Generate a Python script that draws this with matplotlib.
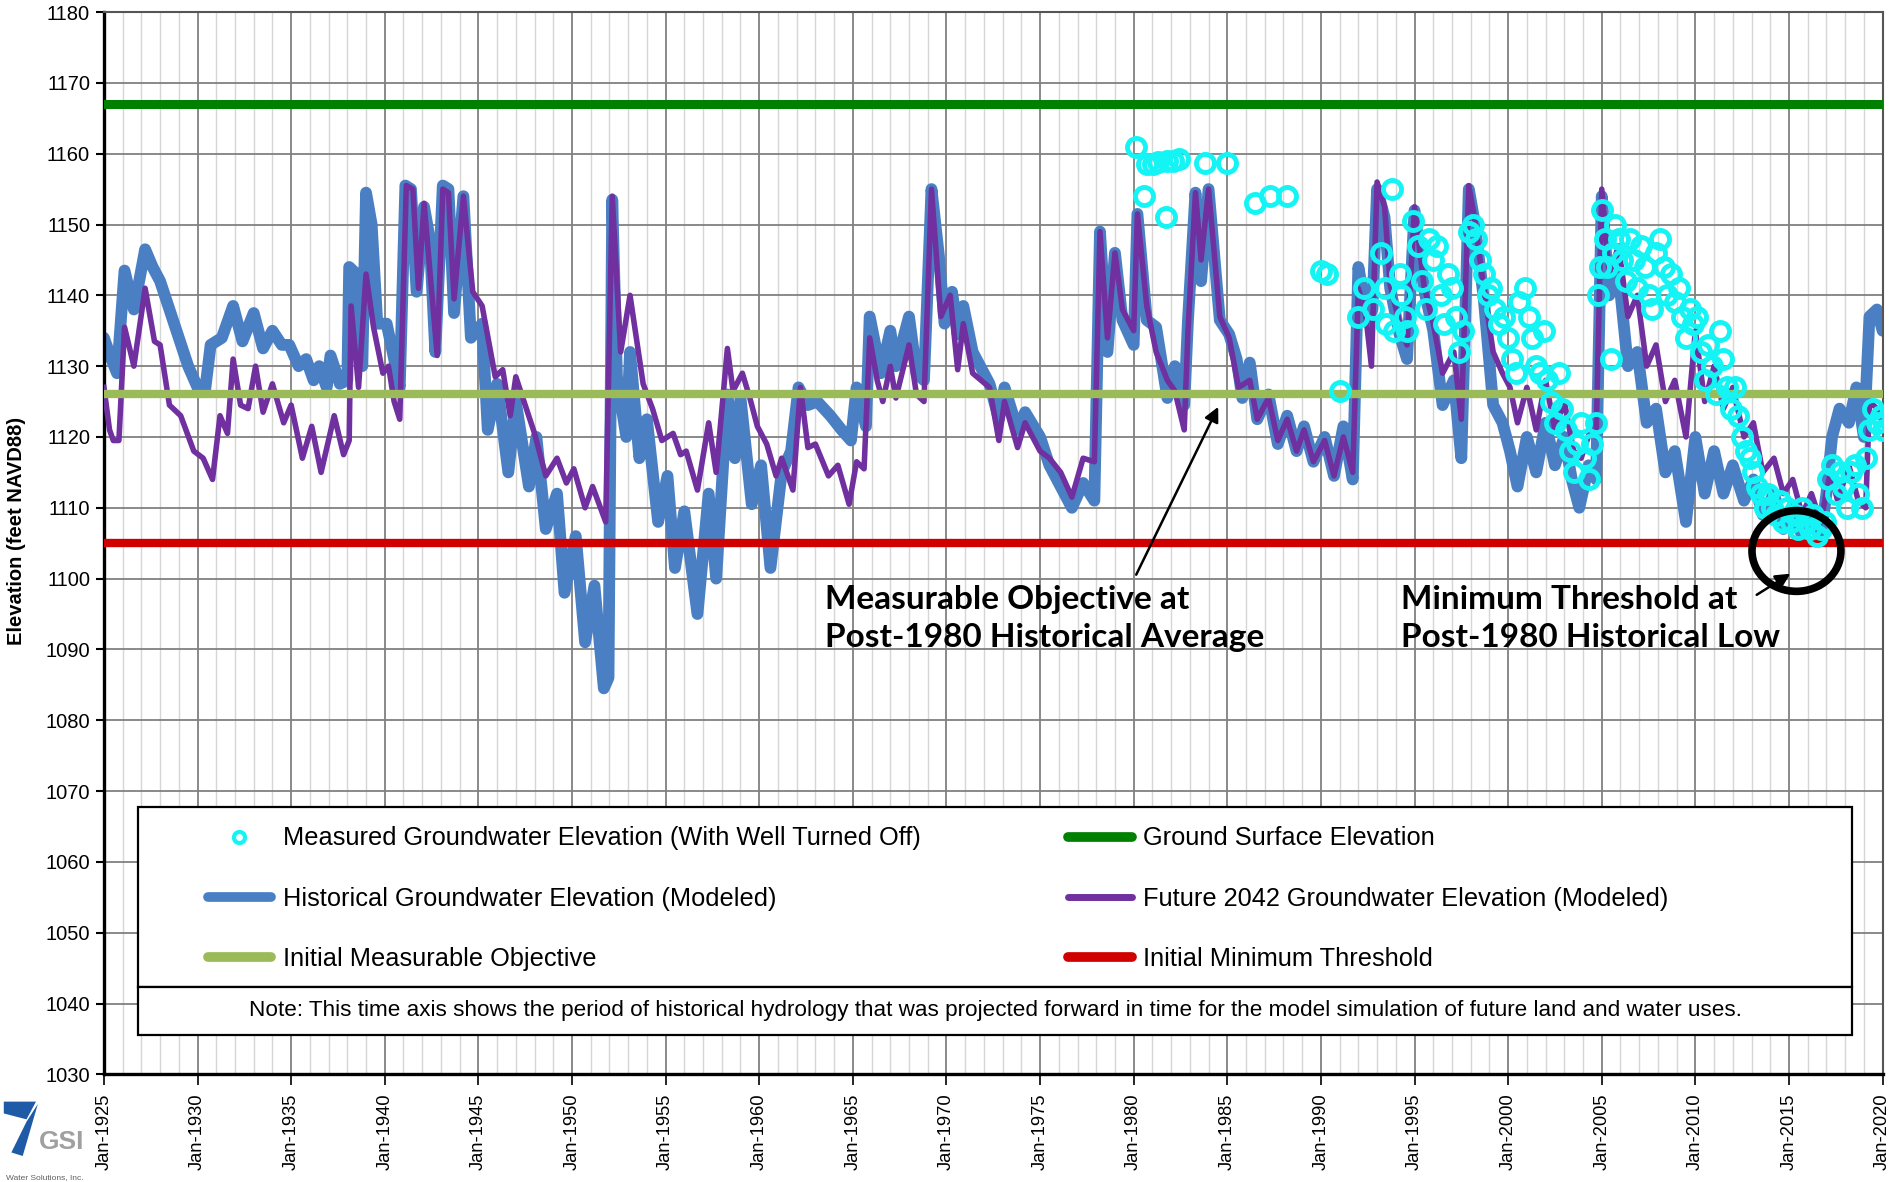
import matplotlib
matplotlib.use("Agg")
import matplotlib.pyplot as plt
from matplotlib.lines import Line2D
from matplotlib.patches import Ellipse, Rectangle, Polygon

# ---------------------------------------------------------------- data
hist_year = [
    1925.0, 1925.4, 1925.7, 1926.1, 1926.6, 1927.2, 1927.6, 1928.0, 1928.5, 1929.0,
    1929.5, 1930.0, 1930.4, 1930.7, 1931.3, 1931.9, 1932.4, 1933.0, 1933.5, 1934.0,
    1934.5, 1934.9, 1935.4, 1935.8, 1936.2, 1936.5, 1936.9, 1937.1, 1937.6, 1938.0,
    1938.1, 1938.5, 1938.8, 1939.0, 1939.3, 1939.6, 1940.1, 1940.5, 1940.8, 1941.1,
    1941.4, 1941.7, 1942.1, 1942.4, 1942.7, 1943.1, 1943.4, 1943.7, 1944.2, 1944.6,
    1945.2, 1945.5, 1946.0, 1946.6, 1947.0, 1947.7, 1948.1, 1948.6, 1949.2, 1949.6,
    1950.2, 1950.7, 1951.2, 1951.7, 1951.95, 1952.15, 1952.4, 1952.9, 1953.1, 1953.6,
    1954.0, 1954.6, 1955.1, 1955.5, 1956.0, 1956.7, 1957.3, 1957.7, 1958.3, 1958.7,
    1959.0, 1959.6, 1960.1, 1960.6, 1961.2, 1961.7, 1962.1, 1962.6, 1963.1, 1963.8,
    1964.4, 1964.9, 1965.2, 1965.7, 1965.9, 1966.5, 1967.0, 1967.3, 1968.0, 1968.4,
    1968.8, 1969.2, 1969.6, 1969.9, 1970.3, 1970.6, 1970.9, 1971.4, 1972.3, 1972.8,
    1973.1, 1973.8, 1974.2, 1975.0, 1975.5, 1976.1, 1976.7, 1977.3, 1977.9, 1978.2,
    1978.6, 1979.0, 1979.4, 1980.0, 1980.2, 1980.7, 1981.2, 1981.8, 1982.2, 1982.7,
    1982.9, 1983.3, 1983.6, 1984.0, 1984.6, 1985.1, 1985.5, 1985.8, 1986.2, 1986.6,
    1987.2, 1987.7, 1988.2, 1988.7, 1989.1, 1989.6, 1990.2, 1990.7, 1991.2, 1991.7,
    1992.0, 1992.5, 1992.75, 1993.0, 1993.4, 1993.7, 1994.2, 1994.6, 1995.0, 1995.5,
    1996.0, 1996.5, 1997.1, 1997.5, 1997.9, 1998.2, 1998.7, 1999.2, 1999.7, 2000.1,
    2000.5, 2001.0, 2001.5, 2002.0, 2002.5, 2003.0, 2003.4, 2003.8, 2004.3, 2004.7,
    2005.0, 2005.4, 2005.9, 2006.4, 2006.9, 2007.4, 2007.9, 2008.4, 2008.9, 2009.5,
    2010.0, 2010.5, 2011.0, 2011.5, 2012.0, 2012.6, 2013.1, 2013.6, 2014.2, 2014.7,
    2015.2, 2015.7, 2016.2, 2016.7, 2017.0, 2017.3, 2017.7, 2018.2, 2018.6, 2019.0,
    2019.3, 2019.7, 2020.0,
]
hist_elev = [
    1134, 1131, 1129, 1143.5, 1138, 1146.5, 1144, 1142, 1138, 1134,
    1130, 1127, 1126.5, 1133, 1134, 1138.5, 1133.5, 1137.5, 1132.5, 1135,
    1133, 1133, 1130, 1131, 1128, 1130, 1127, 1131.5, 1127.5, 1128,
    1144, 1143, 1130, 1154.5, 1150, 1136, 1136, 1131, 1127, 1155.5,
    1155, 1140.5, 1152.5, 1148, 1132, 1155.5, 1155, 1137.5, 1154, 1134,
    1136, 1121, 1127.5, 1115, 1125, 1113, 1120, 1107, 1112, 1098,
    1106, 1091, 1099, 1084.5, 1086, 1153.5, 1128.5, 1120, 1132, 1117,
    1122.5, 1108, 1114.5, 1101.5, 1109.5, 1095, 1112, 1100, 1126, 1117,
    1125.5, 1110.5, 1116, 1101.5, 1115, 1118, 1127, 1124.5, 1125, 1123,
    1121, 1119.5, 1127, 1121.5, 1137, 1129, 1135, 1130, 1137, 1129,
    1128, 1155, 1145.5, 1136, 1140.5, 1134.5, 1138.5, 1132, 1127.5, 1122.5,
    1127, 1121, 1123.5, 1120, 1116, 1113, 1110, 1113.5, 1111, 1149,
    1132, 1146, 1136.5, 1133, 1151.5, 1136.5, 1135.5, 1125.5, 1130, 1124.5,
    1136.5, 1154.5, 1142, 1155, 1136.5, 1134.5, 1131, 1125.5, 1130.5, 1122.5,
    1126, 1119, 1123, 1118, 1121.5, 1116.5, 1120, 1114.5, 1121.5, 1114,
    1144, 1136.5, 1138, 1155, 1151, 1141, 1134.5, 1131, 1152, 1141,
    1135, 1124.5, 1128, 1117, 1155, 1150.5, 1139.5, 1124.5, 1122, 1118,
    1113, 1120, 1115, 1122, 1116, 1120, 1114, 1110, 1116, 1114,
    1154, 1140, 1143, 1130, 1132, 1122, 1124, 1115, 1118, 1108,
    1120, 1112, 1118, 1112, 1116, 1111, 1114, 1109, 1112, 1107,
    1110, 1106, 1108, 1106, 1112, 1120, 1124, 1122, 1127, 1120,
    1137, 1138, 1135,
]

fut_year = [
    1925.0, 1925.3, 1925.5, 1925.8, 1926.1, 1926.6, 1927.2, 1927.7, 1928.0, 1928.5,
    1929.1, 1929.8, 1930.3, 1930.8, 1931.2, 1931.6, 1931.9, 1932.3, 1932.7, 1933.1,
    1933.5, 1934.0, 1934.6, 1935.0, 1935.6, 1936.1, 1936.6, 1937.3, 1937.8, 1938.1,
    1938.2, 1938.6, 1939.0, 1939.4, 1939.9, 1940.2, 1940.5, 1940.8, 1941.15, 1941.5,
    1941.8, 1942.1, 1942.8, 1943.1, 1943.4, 1943.7, 1944.2, 1944.7, 1945.2, 1945.9,
    1946.3, 1946.7, 1947.0, 1948.0, 1948.6, 1949.2, 1949.7, 1950.1, 1950.7, 1951.1,
    1951.8, 1952.15, 1952.6, 1953.1, 1953.8, 1954.3, 1954.8, 1955.4, 1955.8, 1956.1,
    1956.7, 1957.3, 1957.7, 1958.3, 1958.6, 1959.1, 1959.5, 1959.9, 1960.4, 1960.9,
    1961.2, 1961.8, 1962.2, 1962.6, 1963.0, 1963.7, 1964.2, 1964.8, 1965.2, 1965.6,
    1965.9, 1966.3, 1966.6, 1967.0, 1967.3, 1968.0, 1968.4, 1968.8, 1969.2, 1969.7,
    1970.2, 1970.6, 1970.9, 1971.4, 1972.3, 1972.8, 1973.1, 1973.8, 1974.2, 1975.0,
    1975.5, 1976.1, 1976.7, 1977.3, 1977.9, 1978.2, 1978.6, 1979.0, 1979.4, 1980.0,
    1980.2, 1980.7, 1981.2, 1981.8, 1982.2, 1982.7, 1982.9, 1983.3, 1983.6, 1984.0,
    1984.6, 1985.1, 1985.6, 1986.2, 1986.6, 1987.2, 1987.7, 1988.2, 1988.7, 1989.1,
    1989.6, 1990.2, 1990.7, 1991.2, 1991.7, 1992.0, 1992.4, 1992.7, 1993.0, 1993.4,
    1993.7, 1994.2, 1994.6, 1995.0, 1995.5, 1996.0, 1996.5, 1997.1, 1997.5, 1997.9,
    1998.2, 1998.7, 1999.2, 1999.7, 2000.1, 2000.5, 2001.0, 2001.5, 2002.0, 2002.5,
    2003.0, 2003.5, 2003.9, 2004.4, 2004.7, 2005.0, 2005.4, 2005.9, 2006.4, 2006.9,
    2007.4, 2007.9, 2008.4, 2008.9, 2009.5, 2010.0, 2010.5, 2011.0, 2011.5, 2012.0,
    2012.6, 2013.1, 2013.6, 2014.2, 2014.7, 2015.2, 2015.7, 2016.2, 2016.7, 2017.2,
    2017.6, 2018.2, 2018.7, 2019.1, 2019.3, 2019.7, 2020.0,
]
fut_elev = [
    1127, 1121, 1119.5, 1119.5, 1135.5, 1130, 1141, 1133.5, 1133, 1124.5,
    1123, 1118, 1117, 1114, 1123, 1120.5, 1131, 1124.5, 1124, 1130,
    1123.5, 1127.5, 1122, 1124.5, 1117, 1121.5, 1115, 1123, 1117.5, 1119.5,
    1138.5, 1127, 1143, 1135.5, 1129, 1130, 1125, 1122.5, 1155.5, 1155,
    1141, 1153, 1131.5, 1155, 1154.5, 1139.5, 1154, 1140.5, 1138.5, 1128.5,
    1129.5, 1123, 1128.5, 1120.5, 1114.5, 1117, 1113.5, 1115.5, 1110, 1113,
    1108, 1154, 1132, 1140, 1127.5, 1124, 1119.5, 1120.5, 1117.5, 1118,
    1112.5, 1122, 1115, 1132.5, 1126.5, 1129, 1125.5, 1121.5, 1119, 1114.5,
    1117, 1112.5, 1127, 1118.5, 1119, 1114.5, 1116, 1110.5, 1116.5, 1115.5,
    1134, 1128, 1125, 1130, 1125.5, 1133, 1126, 1125, 1155, 1137,
    1140, 1129.5, 1136, 1129, 1127, 1119.5, 1125, 1118.5, 1122, 1118,
    1117, 1115, 1111.5, 1117, 1116.5, 1149, 1134, 1146, 1138, 1135,
    1151.5, 1138.5, 1132, 1128, 1126.5, 1121, 1135, 1154.5, 1145, 1155,
    1137, 1134, 1127, 1128, 1122.5, 1125.5, 1119.5, 1122.5, 1118, 1121,
    1116.5, 1119.5, 1114.5, 1120, 1115, 1141, 1137, 1130, 1156, 1152.5,
    1141.5, 1136, 1133, 1152.5, 1141.5, 1136, 1129, 1132, 1122.5, 1155.5,
    1151, 1141, 1132, 1129, 1127, 1122, 1127, 1121, 1128, 1121,
    1125, 1118, 1117, 1121, 1120, 1155, 1143, 1147, 1137, 1140,
    1130, 1133, 1125, 1128, 1120, 1135, 1125, 1130, 1124, 1127,
    1120, 1122, 1115, 1117, 1112, 1114, 1109, 1112, 1108, 1115,
    1111, 1116, 1111, 1110, 1125, 1124, 1122,
]

meas_year = [
    1980.15, 1980.55, 1980.7, 1981.05, 1981.3, 1981.7, 1981.8, 1982.1, 1982.4, 1983.8,
    1985.0, 1986.5, 1987.3, 1988.2, 1990.0, 1990.3, 1991.0, 1992.0, 1992.3, 1992.8,
    1993.2, 1993.4, 1993.5, 1993.8, 1993.9, 1994.2, 1994.3, 1994.5, 1994.6, 1994.9,
    1995.2, 1995.4, 1995.6, 1995.8, 1996.0, 1996.2, 1996.4, 1996.6, 1996.8, 1997.0,
    1997.2, 1997.4, 1997.6, 1997.9, 1998.1, 1998.3, 1998.5, 1998.7, 1998.9, 1999.1,
    1999.3, 1999.5, 1999.8, 2000.0, 2000.2, 2000.4, 2000.6, 2000.9, 2001.1, 2001.3,
    2001.5, 2001.7, 2001.9, 2002.1, 2002.3, 2002.5, 2002.7, 2002.9, 2003.1, 2003.3,
    2003.5, 2003.7, 2003.9, 2004.1, 2004.3, 2004.5, 2004.7, 2004.8, 2004.9, 2005.0,
    2005.15, 2005.3, 2005.5, 2005.6, 2005.7, 2005.9, 2006.1, 2006.3, 2006.5, 2006.7,
    2006.9, 2007.1, 2007.3, 2007.5, 2007.7, 2007.9, 2008.1, 2008.3, 2008.5, 2008.7,
    2008.9, 2009.1, 2009.3, 2009.5, 2009.7, 2009.9, 2010.1, 2010.3, 2010.5, 2010.7,
    2010.9, 2011.1, 2011.3, 2011.5, 2011.7, 2011.9, 2012.1, 2012.3, 2012.5, 2012.7,
    2012.9, 2013.1, 2013.3, 2013.5, 2013.7, 2013.9, 2014.1, 2014.3, 2014.5, 2014.7,
    2014.9, 2015.1, 2015.3, 2015.5, 2015.7, 2015.9, 2016.1, 2016.3, 2016.5, 2016.7,
    2016.9, 2017.1, 2017.3, 2017.5, 2017.7, 2017.9, 2018.1, 2018.3, 2018.5, 2018.7,
    2018.9, 2019.1, 2019.3, 2019.5, 2019.7, 2019.9, 2020.0,
]
meas_elev = [
    1161, 1154, 1158.5, 1158.5, 1158.8, 1151, 1159, 1159, 1159.2, 1158.7,
    1158.7, 1153, 1154, 1154, 1143.5, 1143, 1126.5, 1137, 1141, 1138,
    1146, 1141, 1136, 1155, 1135, 1143, 1140, 1137, 1135, 1150.5,
    1147, 1142, 1138, 1148, 1145, 1147, 1140, 1136, 1143, 1141,
    1137, 1132, 1135, 1149, 1150, 1148, 1145, 1143, 1140, 1141,
    1138, 1136, 1137, 1134, 1131, 1129, 1139, 1141, 1137, 1134,
    1130, 1129, 1135, 1128, 1125, 1122, 1129, 1124, 1121, 1118,
    1115, 1119, 1122, 1117, 1114, 1119, 1122, 1140, 1144, 1152,
    1148, 1144, 1131, 1146, 1150, 1148, 1145, 1142, 1148, 1145,
    1141, 1147, 1144, 1140, 1138, 1146, 1148, 1144, 1140, 1143,
    1139, 1141, 1137, 1134, 1138, 1136, 1137, 1132, 1128, 1133,
    1130, 1126, 1135, 1131, 1127, 1124, 1127, 1123, 1120, 1118,
    1117, 1115, 1113, 1112, 1110, 1112, 1110, 1109, 1111, 1108,
    1110, 1108, 1109, 1107, 1110, 1108, 1107, 1109, 1106, 1107,
    1108, 1114, 1116, 1112, 1115, 1113, 1110, 1115, 1116, 1112,
    1110, 1117, 1121, 1124, 1122, 1123, 1121,
]

ground_surface = 1167
measurable_objective = 1126
minimum_threshold = 1105

tick_years = list(range(1925, 2021, 5))
tick_labels = [f"Jan-{y}" for y in tick_years]

BLUE = "#4a80c3"
PURPLE = "#7030a0"
CYAN = "#14f4f4"
GREEN = "#008000"
OLIVE = "#9bbb59"
RED = "#d00000"

plt.rcParams["font.family"] = ["Liberation Sans", "DejaVu Sans"]

fig = plt.figure(figsize=(18.93, 11.82), dpi=100)
ax = fig.add_axes([0.0549, 0.0911, 0.9396, 0.8987])

# modeled hydrographs, then threshold lines on top, measured points above all
ax.plot(hist_year, hist_elev, color=BLUE, lw=8.5, solid_joinstyle="round",
        solid_capstyle="round", zorder=2)
ax.plot(fut_year, fut_elev, color=PURPLE, lw=4, solid_joinstyle="round", zorder=3)
ax.axhline(ground_surface, color=GREEN, lw=6.5, zorder=4)
ax.axhline(measurable_objective, color=OLIVE, lw=6, zorder=4)
ax.axhline(minimum_threshold, color=RED, lw=6, zorder=4)
ax.plot(meas_year, meas_elev, ls="none", marker="o", ms=13, mfc="none",
        mec=CYAN, mew=3.5, zorder=5)

ax.set_xlim(1925, 2020)
ax.set_ylim(1030, 1180)
ax.set_xticks(tick_years)
ax.set_xticklabels(tick_labels, rotation=90, fontsize=13.2)
ax.set_xticks(range(1925, 2021), minor=True)
ax.set_yticks(range(1030, 1181, 10))
ax.tick_params(axis="y", labelsize=14.5, length=6, width=1.5, pad=4)
ax.tick_params(axis="x", which="major", length=8, width=1.2, pad=6)
ax.tick_params(axis="x", which="minor", length=0)
ax.set_axisbelow(True)
ax.grid(axis="x", which="minor", color="#d6d6d6", lw=1.0)
ax.grid(axis="x", which="major", color="#808080", lw=1.3)
ax.grid(axis="y", which="major", color="#808080", lw=1.3)
for side in ("left", "bottom"):
    ax.spines[side].set_linewidth(2.4)
    ax.spines[side].set_color("black")
for side in ("top", "right"):
    ax.spines[side].set_linewidth(1.5)
    ax.spines[side].set_color("#555555")

fig.text(0.0085, 0.551, "Elevation (feet NAVD88)", rotation=90, ha="center",
         va="center", fontsize=14.5, fontweight="bold")

# legend box + note box
ax.add_patch(Rectangle((0.019, 0.082), 0.964, 0.170, transform=ax.transAxes,
                       facecolor="white", edgecolor="black", lw=1.6, zorder=8))
ax.add_patch(Rectangle((0.019, 0.0373), 0.964, 0.0447, transform=ax.transAxes,
                       facecolor="white", edgecolor="black", lw=1.6, zorder=8))
ax.text(0.501, 0.0597,
        "Note: This time axis shows the period of historical hydrology that was "
        "projected forward in time for the model simulation of future land and water uses.",
        transform=ax.transAxes, ha="center", va="center", fontsize=16.2, zorder=9)

h_meas = Line2D([], [], ls="none", marker="o", ms=8, mfc="none", mec=CYAN, mew=3)
h_hist = Line2D([], [], color=BLUE, lw=7, solid_capstyle="round")
h_mo = Line2D([], [], color=OLIVE, lw=7, solid_capstyle="round")
h_gs = Line2D([], [], color=GREEN, lw=7, solid_capstyle="round")
h_fut = Line2D([], [], color=PURPLE, lw=5, solid_capstyle="round")
h_mt = Line2D([], [], color=RED, lw=7, solid_capstyle="round")

leg_kw = dict(loc="center left", frameon=False, fontsize=18.3, handlelength=2.5,
              handletextpad=0.45, labelspacing=1.42, borderpad=0, borderaxespad=0)
leg1 = ax.legend([h_meas, h_hist, h_mo],
                 ["Measured Groundwater Elevation (With Well Turned Off)",
                  "Historical Groundwater Elevation (Modeled)",
                  "Initial Measurable Objective"],
                 bbox_to_anchor=(0.0583, 0.1655), **leg_kw)
leg1.set_zorder(10)
ax.add_artist(leg1)
leg2 = ax.legend([h_gs, h_fut, h_mt],
                 ["Ground Surface Elevation",
                  "Future 2042 Groundwater Elevation (Modeled)",
                  "Initial Minimum Threshold"],
                 bbox_to_anchor=(0.5423, 0.1655), **leg_kw)
leg2.set_zorder(10)

# callouts
note_font = dict(fontsize=24, fontweight="bold", family=["Lato", "DejaVu Sans"],
                 ha="left", va="center", linespacing=1.38, zorder=9)
ax.text(1963.5, 1094.4, "Measurable Objective at\nPost-1980 Historical Average", **note_font)
ax.text(1994.26, 1094.4, "Minimum Threshold at\nPost-1980 Historical Low", **note_font)
arrow = dict(arrowstyle="-|>", color="black", lw=1.8, mutation_scale=22)
ax.annotate("", xy=(1984.58, 1124.6), xytext=(1980.07, 1100.2), arrowprops=arrow, zorder=9)
ax.annotate("", xy=(2015.2, 1100.9), xytext=(2013.15, 1097.5), arrowprops=arrow, zorder=9)
ax.add_patch(Ellipse((2015.4, 1103.9), 4.75, 11.4, fill=False, edgecolor="black",
                     lw=5.5, zorder=7))

# company mark, lower left
fig.patches.append(Polygon([[0.002, 0.068], [0.019, 0.068], [0.014, 0.053], [0.002, 0.058]],
                           closed=True, transform=fig.transFigure, facecolor="#1f5aa6",
                           edgecolor="none"))
fig.patches.append(Polygon([[0.014, 0.051], [0.020, 0.066], [0.012, 0.022], [0.006, 0.025]],
                           closed=True, transform=fig.transFigure, facecolor="#1f5aa6",
                           edgecolor="none"))
fig.text(0.0205, 0.034, "GSI", fontsize=19, fontweight="bold", color="#a0a0a0",
         ha="left", va="center")
fig.text(0.003, 0.004, "Water Solutions, Inc.", fontsize=6, color="#606060",
         ha="left", va="center")

fig.savefig("out.png", dpi=100)
